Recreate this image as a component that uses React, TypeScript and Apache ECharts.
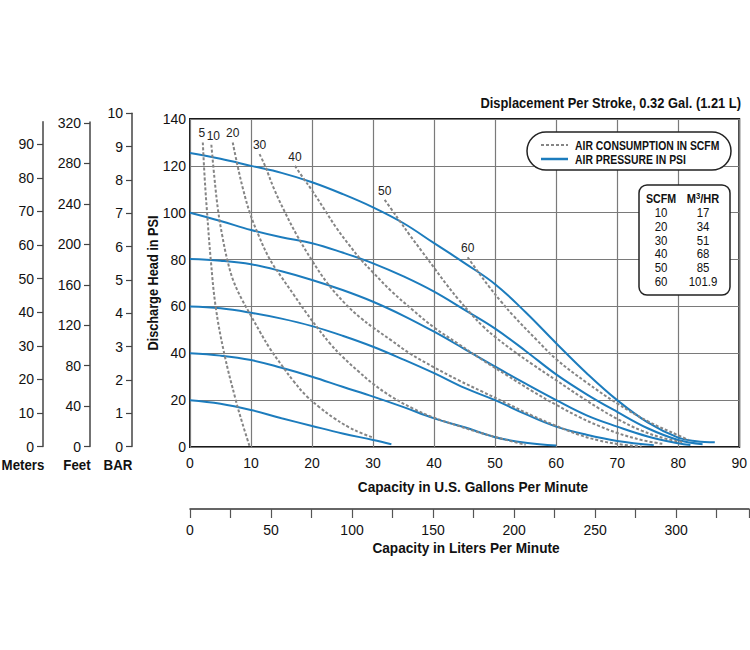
import React, { useEffect, useRef } from "react";
import * as echarts from "echarts";

const FONT = "'Liberation Sans', Arial, sans-serif";
const BLUE = "#1c7cbd";
const GREY = "#858585";

// Air pressure curves: [GPM, PSI]
const psi125 = [[0,125.5],[5,123],[10,120],[15,117],[20,113],[25,108],[30,102.3],[35,95.5],[40,87],[45,78.5],[50,69.5],[55,57.5],[60,44.3],[65,31.5],[70,20],[75,10.5],[80,4],[83,2.5],[86,2]];
const psi100 = [[0,100],[5,96.5],[10,92.6],[15,89.5],[20,87],[25,83],[30,78.4],[35,72.8],[40,66.3],[45,58.5],[50,50.5],[55,41],[60,31],[65,22.5],[70,15],[75,8],[80,3],[84,1.2]];
const psi80 = [[0,80.2],[5,79.5],[10,78],[15,75],[20,71.3],[25,67],[30,62],[35,56],[40,49.2],[45,41.8],[50,34.3],[55,27],[60,20],[65,13.5],[70,8.7],[75,4.5],[80,1.6],[82,0.9]];
const psi60 = [[0,60],[5,59.2],[10,57.3],[15,54.8],[20,51.6],[25,47.5],[30,42.8],[35,37.3],[40,31.5],[45,25.2],[50,20],[55,14],[60,8.7],[65,5.2],[70,2.6],[76,0.8]];
const psi40 = [[0,40],[5,39],[10,37.1],[15,33.8],[20,30],[25,25.7],[30,21.5],[35,17],[40,12.2],[45,8.4],[50,4.2],[55,1.8],[60,0.6]];
const psi20 = [[0,20],[5,18.5],[10,15.8],[15,12.3],[20,9],[25,5.8],[30,3],[33,1.2]];
const pressureCurves = [psi125, psi100, psi80, psi60, psi40, psi20];

// Air consumption curves (SCFM): [GPM, PSI]
const scfm5 = [[2.1,130],[2.4,115],[2.8,100],[3.4,80],[4.2,60],[5.6,40],[7.5,20],[8.6,10],[9.8,0]];
const scfm10 = [[3.5,129],[4.0,115],[4.6,101],[5.3,90],[6.1,80],[7.1,71],[8.5,63],[10,56],[11.5,49],[13.1,42],[15,35],[17,28],[19,22],[21.2,17],[23.5,12.5],[26,8.5],[28,6],[30,4]];
const scfm20 = [[7,130],[7.8,120],[8.7,110],[9.8,100],[11.3,90],[13.1,80],[15,72.5],[17,65],[19,57.5],[21,50.5],[23,44],[25,38.5],[27.5,32.5],[30,27],[33,21.5],[36.5,16.5],[40,12.5],[44,9],[47,6.5],[50,4.3],[53,2.2],[55,1]];
const scfm30 = [[11.4,125],[12.3,120],[13.8,110],[15.6,100],[17.6,90],[19.9,80],[22.5,70],[25.5,61],[28,55],[30,51],[33,45.5],[36,40],[40,34],[44,28.5],[48,23.5],[52,18.5],[56,13.5],[60,9],[64,5],[67,2.8],[70,1.3],[74,0.2]];
const scfm40 = [[17.2,120],[18.5,115],[20,109.5],[22,101.5],[24,93.5],[26,86.5],[28,80],[30,74.5],[33,66.5],[36.5,58.5],[40,51],[44,44],[48,37],[52,30.5],[56,24],[60,18],[64,12.5],[67,9],[70,6],[74,3],[77.5,1.3]];
const scfm50 = [[31.9,105.5],[33,101.5],[34.5,96],[36,90.5],[38,83.5],[40,76.5],[42,69.5],[44,63],[46,57],[48,51.5],[50,47],[53,41],[56,35.5],[60,28.5],[64,21.5],[67,16.5],[70,12],[74,7],[78,3.5],[81,2]];
const scfm60 = [[45.5,81],[47,75.5],[49,68.5],[51,62],[53,56],[56.7,46],[60,37.5],[65,27.5],[70,18.6],[75,11],[80,5],[81.7,3]];
const scfmCurves = [scfm5, scfm10, scfm20, scfm30, scfm40, scfm50, scfm60];
const scfmNames = ["5", "10", "20", "30", "40", "50", "60"];
const scfmLabelShift = [-1, 2, 0, 0, 0, 0, 0];

// Secondary scales
const meterTicks = [0, 10, 20, 30, 40, 50, 60, 70, 80, 90];
const feetTicks = [0, 40, 80, 120, 160, 200, 240, 280, 320];
const literLabels = [0, 50, 100, 150, 200, 250, 300];

// Conversion table
const tableScfm = ["10", "20", "30", "40", "50", "60"];
const tableM3hr = ["17", "34", "51", "68", "85", "101.9"];

const labelStyle = { fontFamily: FONT, fontSize: 14, color: "#111" };

function sideAxis(gridIndex: number, max: number, ticks: number[] | null, interval: number) {
  return {
    type: "value",
    gridIndex,
    position: "left",
    min: 0,
    max,
    interval,
    axisLine: { show: true, lineStyle: { color: "#444", width: 1.5 } },
    axisTick: ticks
      ? { show: true, length: 6, customValues: ticks, lineStyle: { color: "#444", width: 1.2 } }
      : { show: true, length: 6, lineStyle: { color: "#444", width: 1.2 } },
    axisLabel: ticks
      ? { ...labelStyle, margin: 9, customValues: ticks }
      : { ...labelStyle, margin: 9 },
    splitLine: { show: false },
  };
}

function hiddenX(gridIndex: number) {
  return { type: "value", gridIndex, show: false, min: 0, max: 1 };
}

export default function App() {
  const ref = useRef<HTMLDivElement>(null);
  useEffect(() => {
    if (!ref.current) return;
    const chart = echarts.init(ref.current, undefined, { renderer: "svg" });

    const series: any[] = [];
    pressureCurves.forEach((c) => {
      series.push({
        type: "line",
        xAxisIndex: 0,
        yAxisIndex: 0,
        data: c,
        smooth: 0.4,
        showSymbol: false,
        lineStyle: { color: BLUE, width: 2 },
        z: 3,
      });
    });
    scfmCurves.forEach((c, k) => {
      series.push({
        type: "line",
        xAxisIndex: 0,
        yAxisIndex: 0,
        smooth: 0.4,
        symbol: "circle",
        symbolSize: 0,
        showSymbol: true,
        data: c.map((p, i) =>
          i === 0
            ? {
                value: p,
                label: {
                  show: true,
                  position: "top",
                  distance: 3,
                  offset: [scfmLabelShift[k], 0],
                  formatter: scfmNames[k],
                  fontFamily: FONT,
                  fontSize: 12,
                  color: "#222",
                },
              }
            : p
        ),
        lineStyle: { color: GREY, width: 2, type: [3, 2] },
        z: 4,
      });
    });

    const graphic: any[] = [];
    const txt = (x: number, y: number, text: string, o: any = {}) => ({
      type: "text",
      x,
      y,
      rotation: o.rotation || 0,
      scaleX: o.sx || 1,
      z: 100,
      style: {
        text,
        fill: "#111",
        fontFamily: FONT,
        fontSize: o.size || 14,
        fontWeight: o.weight || "normal",
        align: o.align || "center",
        verticalAlign: "middle",
      },
    });
    graphic.push(txt(741, 103, "Displacement Per Stroke, 0.32 Gal. (1.21 L)", { weight: "bold", align: "right", size: 15, sx: 0.86 }));
    graphic.push(txt(153, 283, "Discharge Head in PSI", { weight: "bold", rotation: Math.PI / 2, size: 15, sx: 0.85 }));
    graphic.push(txt(473, 487, "Capacity in U.S. Gallons Per Minute", { weight: "bold", size: 15, sx: 0.91 }));
    graphic.push(txt(466, 548, "Capacity in Liters Per Minute", { weight: "bold", size: 15, sx: 0.91 }));
    graphic.push(txt(23, 465, "Meters", { weight: "bold", sx: 0.95 }));
    graphic.push(txt(77, 465, "Feet", { weight: "bold", sx: 0.95 }));
    graphic.push(txt(118, 465, "BAR", { weight: "bold", sx: 0.95 }));

    // legend box
    graphic.push({ type: "rect", z: 90, shape: { x: 527, y: 132, width: 204, height: 38, r: 19 }, style: { fill: "#fff", stroke: "#222", lineWidth: 1.5 } });
    graphic.push({ type: "line", z: 100, shape: { x1: 541, y1: 145, x2: 568, y2: 145 }, style: { stroke: GREY, lineWidth: 2, lineDash: [3, 2] } });
    graphic.push({ type: "line", z: 100, shape: { x1: 541, y1: 159, x2: 568, y2: 159 }, style: { stroke: BLUE, lineWidth: 2.5 } });
    graphic.push(txt(575, 145, "AIR CONSUMPTION IN SCFM", { align: "left", size: 13, weight: "bold", sx: 0.8 }));
    graphic.push(txt(575, 159, "AIR PRESSURE IN PSI", { align: "left", size: 13, weight: "bold", sx: 0.8 }));

    // conversion table
    graphic.push({ type: "rect", z: 90, shape: { x: 639, y: 185, width: 91, height: 110, r: 8 }, style: { fill: "#fff", stroke: "#222", lineWidth: 1.5 } });
    graphic.push(txt(661, 199, "SCFM", { size: 13, weight: "bold", sx: 0.82 }));
    graphic.push({
      type: "text",
      x: 703,
      y: 199,
      z: 100,
      scaleX: 0.85,
      style: {
        text: "{n|M}{s|3}{n|/HR}",
        align: "center",
        verticalAlign: "middle",
        rich: {
          n: { fontFamily: FONT, fontSize: 13, fontWeight: "bold", fill: "#111" },
          s: { fontFamily: FONT, fontSize: 9, fontWeight: "bold", fill: "#111", verticalAlign: "top", padding: [0, 0, 6, 0] },
        },
      },
    });
    tableScfm.forEach((v, i) => {
      graphic.push(txt(661, 212.7 + i * 13.8, v, { size: 13, sx: 0.88 }));
      graphic.push(txt(703, 212.7 + i * 13.8, tableM3hr[i], { size: 13, sx: 0.88 }));
    });

    const option: any = {
      animation: false,
      backgroundColor: "#fff",
      grid: [
        { left: 190, top: 119, width: 551, height: 328, show: true, borderColor: "#1a1a1a", borderWidth: 2, backgroundColor: "transparent", containLabel: false },
        { left: 190, top: 508, width: 559, height: 1, show: false },
        { left: 43, top: 121.7, width: 1, height: 324.9, show: false },
        { left: 90, top: 122, width: 1, height: 324.6, show: false },
        { left: 132, top: 113.3, width: 1, height: 333.3, show: false },
      ],
      xAxis: [
        {
          type: "value",
          gridIndex: 0,
          min: 0,
          max: 90,
          interval: 10,
          axisLine: { show: false },
          axisTick: { show: false },
          axisLabel: { ...labelStyle, margin: 9 },
          splitLine: { show: true, lineStyle: { color: "#7a7a7a", width: 1.2 } },
        },
        {
          type: "value",
          gridIndex: 1,
          position: "bottom",
          min: 0,
          max: 345,
          interval: 25,
          axisLine: { show: true, lineStyle: { color: "#333", width: 1.5 } },
          axisTick: { show: true, length: 9, lineStyle: { color: "#555", width: 1.2 } },
          axisLabel: { ...labelStyle, margin: 14, customValues: literLabels },
          splitLine: { show: false },
        },
        hiddenX(2),
        hiddenX(3),
        hiddenX(4),
      ],
      yAxis: [
        {
          type: "value",
          gridIndex: 0,
          min: 0,
          max: 140,
          interval: 20,
          axisLine: { show: false },
          axisTick: { show: false },
          axisLabel: { ...labelStyle, margin: 4 },
          splitLine: { show: true, lineStyle: { color: "#7a7a7a", width: 1.2 } },
        },
        { type: "value", gridIndex: 1, show: false, min: 0, max: 1 },
        sideAxis(2, 96.7, meterTicks, 10),
        sideAxis(3, 321, feetTicks, 40),
        sideAxis(4, 10, null, 1),
      ],
      series,
      graphic,
    };
    chart.setOption(option);
    return () => chart.dispose();
  }, []);
  return <div ref={ref} style={{ width: 750, height: 650, position: "absolute", left: 0, top: 0 }} />;
}
